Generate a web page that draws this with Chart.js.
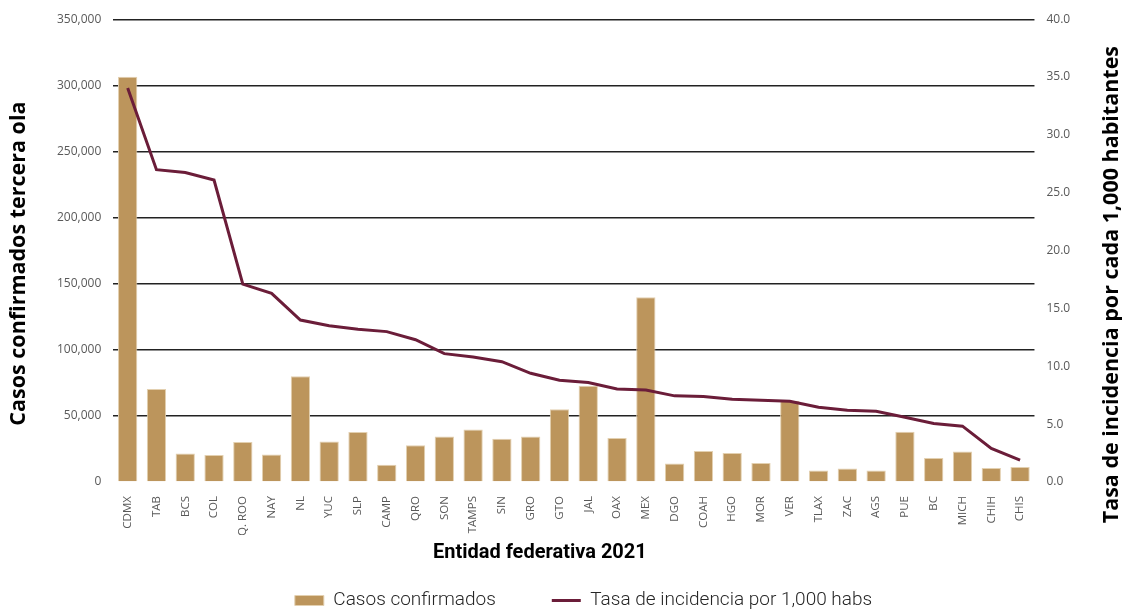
<!DOCTYPE html>
<html lang="es">

<head>
    <meta charset="UTF-8">
    <title>Casos confirmados tercera ola</title>
    <script src="https://cdn.jsdelivr.net/npm/chart.js"></script>
    <style>
        body {
            margin: 0;
            background: #fff;
        }

        .wrap {
            width: 1122px;
            height: 611px;
        }
    </style>
</head>

<body>
    <div class="wrap"><canvas id="chart"></canvas></div>

    <script>
        const estados = ['CDMX', 'TAB', 'BCS', 'COL', 'Q. ROO', 'NAY', 'NL', 'YUC', 'SLP', 'CAMP', 'QRO', 'SON',
            'TAMPS', 'SIN', 'GRO', 'GTO', 'JAL', 'OAX', 'MEX', 'DGO', 'COAH', 'HGO', 'MOR', 'VER', 'TLAX', 'ZAC',
            'AGS', 'PUE', 'BC', 'MICH', 'CHIH', 'CHIS'];

        // casos confirmados (eje izq.)
        const casos = [306500, 70400, 21600, 20400, 30200, 20900, 80000, 30700, 37900, 13100, 27900, 34500,
            39700, 32700, 34400, 55100, 72900, 33300, 139800, 14000, 23500, 22000, 14500, 61500, 8700, 10200,
            8700, 38000, 18200, 23200, 10700, 11400];

        // tasa por 1,000 habs (eje der.)
        const tasa = [34.05, 27.0, 26.75, 26.1, 17.1, 16.3, 14.0, 13.5, 13.2, 13.0, 12.3, 11.1,
            10.8, 10.4, 9.4, 8.8, 8.6, 8.05, 7.95, 7.45, 7.4, 7.15, 7.07, 6.98, 6.47, 6.2,
            6.12, 5.6, 5.06, 4.83, 2.9, 1.9];

        const tickColor = '#595959';
        const tickFont = { family: 'Open Sans', size: 12 };
        const titleFont = { family: 'Open Sans', size: 21.5, weight: 'bold' };

        // axis titles drawn here so the right one reads bottom-to-top like the left one
        const axisTitles = {
            id: 'axisTitles',
            afterDraw(chart) {
                const { ctx, chartArea: a } = chart;
                const midY = (a.top + a.bottom) / 2;
                const midX = (a.left + a.right) / 2;
                ctx.save();
                ctx.fillStyle = '#000';
                ctx.textAlign = 'center';
                ctx.textBaseline = 'middle';
                ctx.font = 'bold 21.5px "Open Sans"';

                ctx.save();
                ctx.translate(19, midY + 13);
                ctx.rotate(-Math.PI / 2);
                ctx.fillText(chart.options.scales.y.title.text, 0, 0);
                ctx.restore();

                ctx.save();
                ctx.translate(chart.width - 10, midY + 34);
                ctx.rotate(-Math.PI / 2);
                ctx.fillText(chart.options.scales.y1.title.text, 0, 0);
                ctx.restore();

                ctx.font = 'bold 20px Roboto';
                ctx.fillText(chart.options.scales.x.title.text, midX - 34, 553);
                ctx.restore();
            }
        };

        new Chart(document.getElementById('chart').getContext('2d'), {
            type: 'bar',
            data: {
                labels: estados,
                datasets: [{
                    type: 'bar',
                    label: 'Casos confirmados',
                    data: casos,
                    yAxisID: 'y',
                    backgroundColor: '#bc955c',
                    borderColor: '#e3d0b0',
                    borderWidth: 1,
                    barPercentage: 0.67,
                    categoryPercentage: 1,
                    pointStyle: 'rect',
                    order: 2
                }, {
                    type: 'line',
                    label: 'Tasa de incidencia por 1,000 habs',
                    data: tasa,
                    yAxisID: 'y1',
                    borderColor: '#6b1d39',
                    backgroundColor: '#6b1d39',
                    borderWidth: 3,
                    pointRadius: 0,
                    pointStyle: 'line',
                    tension: 0,
                    order: 1
                }]
            },
            options: {
                responsive: true,
                maintainAspectRatio: false,
                animation: false,
                layout: { padding: { top: 10, right: 0, bottom: -9, left: 45 } },
                plugins: {
                    tooltip: { enabled: false },
                    legend: {
                        position: 'bottom',
                        labels: {
                            usePointStyle: true,
                            pointStyleWidth: 29,
                            boxHeight: 10,
                            padding: 56,
                            color: '#262626',
                            font: { family: 'Roboto', size: 19, weight: '300' },
                            sort: (a, b) => a.datasetIndex - b.datasetIndex
                        }
                    }
                },
                scales: {
                    x: {
                        grid: { display: false },
                        border: { display: false },
                        ticks: {
                            color: tickColor,
                            font: { family: 'Open Sans', size: 11.5 },
                            minRotation: 90,
                            maxRotation: 90,
                            autoSkip: false,
                            padding: 6
                        },
                        title: {
                            display: true,
                            text: 'Entidad federativa 2021',
                            color: 'rgba(0,0,0,0)',
                            font: { family: 'Roboto', size: 20, weight: 'bold' },
                            padding: { top: 0, bottom: -31 }
                        }
                    },
                    y: {
                        position: 'left',
                        min: 0,
                        max: 350000,
                        ticks: {
                            stepSize: 50000,
                            color: tickColor,
                            font: tickFont,
                            padding: 12,
                            callback: v => v.toLocaleString('en-US')
                        },
                        grid: {
                            drawTicks: false,
                            color: ctx => ctx.index === 0 ? 'rgba(0,0,0,0)' : '#222',
                            lineWidth: 1.4
                        },
                        border: { display: false },
                        title: {
                            display: false,
                            text: 'Casos confirmados tercera ola',
                            font: titleFont
                        }
                    },
                    y1: {
                        position: 'right',
                        min: 0,
                        max: 40,
                        ticks: {
                            stepSize: 5,
                            color: tickColor,
                            font: tickFont,
                            padding: 12,
                            callback: v => v.toFixed(1)
                        },
                        grid: { display: false, drawTicks: false },
                        border: { display: false },
                        title: {
                            display: true,
                            text: 'Tasa de incidencia por cada 1,000 habitantes',
                            color: 'rgba(0,0,0,0)',
                            font: titleFont,
                            padding: { top: 14, bottom: 0 }
                        }
                    }
                }
            },
            plugins: [axisTitles]
        });
    </script>
</body>

</html>
